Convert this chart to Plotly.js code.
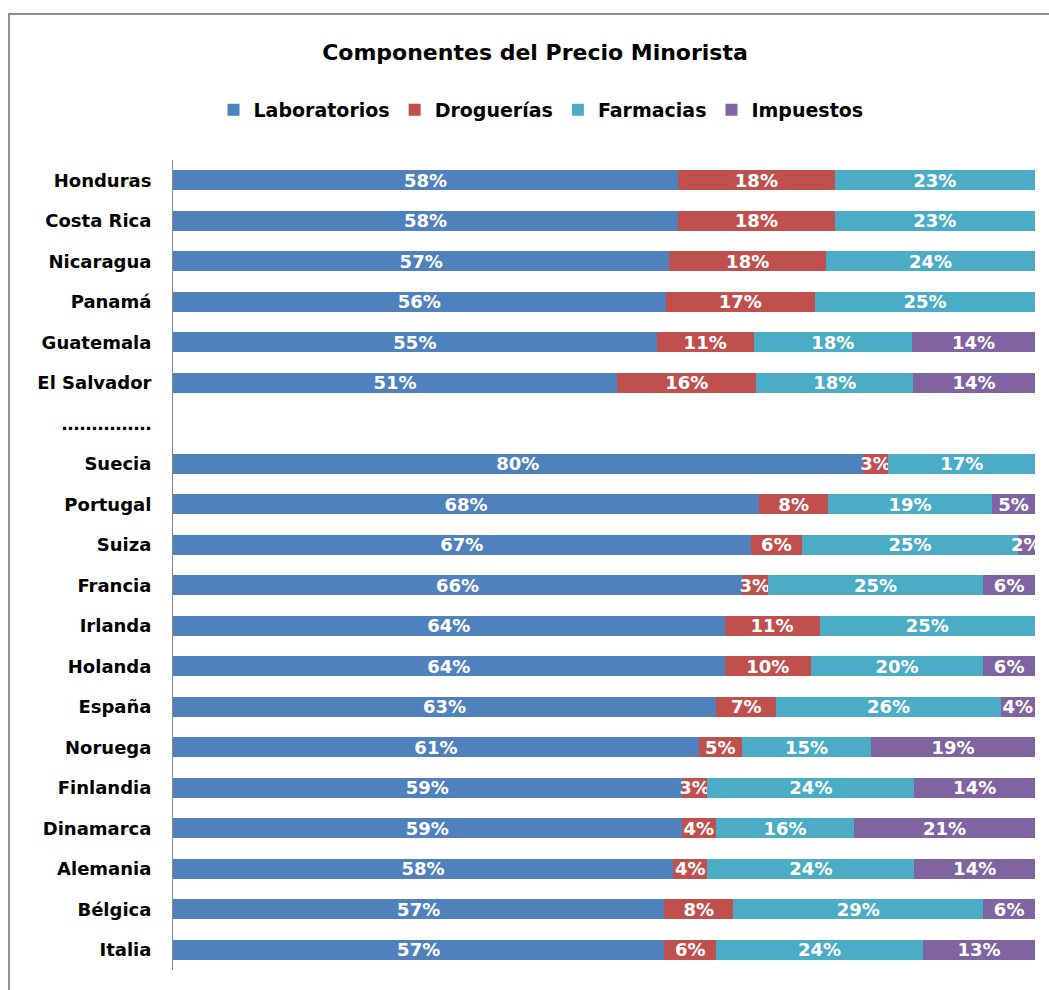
<!DOCTYPE html>
<html>
<head>
<meta charset="utf-8">
<script src="https://cdn.plot.ly/plotly-3.0.1.min.js"></script>
<style>
  html, body { margin: 0; padding: 0; background: #fff; }
  #chart { width: 1049px; height: 990px; }
  #frame { position: absolute; left: 8px; top: 13px; width: 1100px; height: 1100px;
           border-left: 2px solid #8e8e8e; border-top: 2px solid #8e8e8e; pointer-events: none; }
</style>
</head>
<body>
<div id="chart"></div>
<div id="frame"></div>
<script>
const countries = ["Honduras","Costa Rica","Nicaragua","Panamá","Guatemala","El Salvador","……………",
  "Suecia","Portugal","Suiza","Francia","Irlanda","Holanda","España","Noruega","Finlandia",
  "Dinamarca","Alemania","Bélgica","Italia"];
const laboratorios = [58,58,57,56,55,51,null,80,68,67,66,64,64,63,61,59,59,58,57,57];
const droguerias   = [18,18,18,17,11,16,null, 3, 8, 6, 3,11,10, 7, 5, 3, 4, 4, 8, 6];
const farmacias    = [23,23,24,25,18,18,null,17,19,25,25,25,20,26,15,24,16,24,29,24];
const impuestos    = [ 0, 0, 0, 0,14,14,null, 0, 5, 2, 6, 0, 6, 4,19,14,21,14, 6,13];
const seriesNames  = ["Laboratorios","Droguerías","Farmacias","Impuestos"];
const seriesColors = ["#4F81BD","#C0504D","#4BACC6","#8064A2"];
const seriesData   = [laboratorios, droguerias, farmacias, impuestos];

const FONT = "'DejaVu Sans', Verdana, sans-serif";

const traces = seriesData.map((vals, i) => ({
  type: "bar",
  orientation: "h",
  name: seriesNames[i],
  y: countries,
  x: vals,
  text: vals.map(v => (v ? v + "%" : "")),
  textposition: "inside",
  insidetextanchor: "middle",
  textangle: 0,
  cliponaxis: true,
  textfont: { family: FONT, size: 18, color: "#ffffff", weight: "bold" },
  marker: { color: seriesColors[i], line: { width: 0 } },
  hoverinfo: "name+x+y"
}));

const layout = {
  width: 1049, height: 990,
  margin: { l: 173, r: 14, t: 160, b: 20 },
  paper_bgcolor: "#ffffff",
  plot_bgcolor: "#ffffff",
  barmode: "stack",
  barnorm: "percent",
  bargap: 0.5,
  uniformtext: { mode: "show", minsize: 18 },
  font: { family: FONT, size: 18, color: "#000000", weight: "bold" },
  title: {
    text: "Componentes del Precio Minorista",
    font: { family: FONT, size: 22, color: "#000000", weight: "bold" },
    xref: "container", x: 535/1049, xanchor: "center",
    yref: "container", y: 1 - 52/990, yanchor: "middle"
  },
  showlegend: true,
  legend: {
    orientation: "h",
    xref: "paper", x: (541-173)/862, xanchor: "center",
    y: 1.062, yanchor: "middle",
    font: { family: FONT, size: 19, color: "#000000", weight: "bold" },
    traceorder: "normal",
    itemwidth: 20,
    itemclick: false
  },
  xaxis: {
    range: [0, 100],
    visible: false,
    showgrid: false,
    zeroline: false,
    fixedrange: true
  },
  yaxis: {
    type: "category",
    categoryorder: "array",
    categoryarray: countries,
    autorange: "reversed",
    showline: true,
    linecolor: "#868686",
    linewidth: 1,
    showgrid: false,
    zeroline: false,
    ticks: "",
    ticklabelstandoff: 17,
    tickfont: { family: FONT, size: 18, color: "#000000", weight: "bold" },
    fixedrange: true
  }
};

Plotly.newPlot("chart", traces, layout, { displayModeBar: false, staticPlot: true });
</script>
</body>
</html>
